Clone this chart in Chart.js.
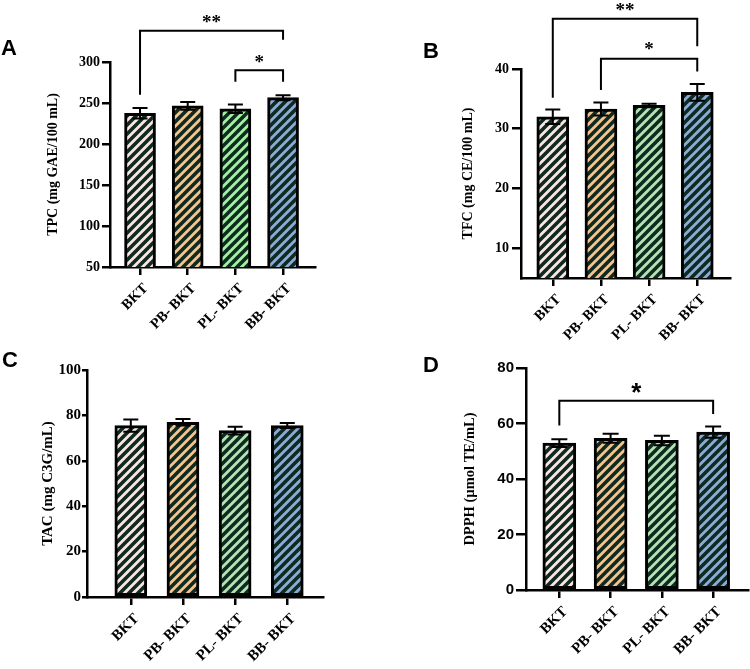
<!DOCTYPE html>
<html>
<head>
<meta charset="utf-8">
<script src="https://cdn.jsdelivr.net/npm/chart.js@4.4.1/dist/chart.umd.min.js"></script>
<style>
  html, body { margin: 0; padding: 0; background: #fff; }
  #wrap { position: relative; width: 750px; height: 669px; overflow: hidden; }
  canvas { position: absolute; }
</style>
</head>
<body>
<div id="wrap">
  <canvas id="chartA" width="375" height="335" style="left:0;top:0"></canvas>
  <canvas id="chartB" width="375" height="360" style="left:375px;top:0"></canvas>
  <canvas id="chartC" width="375" height="334" style="left:0;top:335px"></canvas>
  <canvas id="chartD" width="375" height="334" style="left:375px;top:335px"></canvas>
</div>
<script>
// categories shared by all four panels
const categories = ["BKT", "PB- BKT", "PL- BKT", "BB- BKT"];

// A - total phenolic content
const tpcMeans = [237.5, 246.5, 243, 256.5];
const tpcErrors = [6.5, 4.8, 5.2, 3];
const tpcTicks = [50, 100, 150, 200, 250, 300];
// [from, to, top, left leg end, right leg end, label y, label]
const tpcBrackets = [
  [0, 3, 338, 260, 327, 352, "**"],
  [2, 3, 290, 276, 276, 304, "*"],
];

// B - total flavonoid content
const tfcMeans = [32, 33.3, 33.9, 36.1];
const tfcErrors = [1.2, 1.1, 0.3, 1.4];
const tfcTicks = [10, 20, 30, 40];
const tfcBrackets = [
  [0, 3, 48.4, 35.2, 43.8, 50.4, "**"],
  [1, 3, 41.7, 36.5, 39.6, 43.8, "*"],
];

// C - total anthocyanin content
const tacMeans = [75.5, 77, 73.3, 75.5];
const tacErrors = [2.7, 1.4, 1.7, 1.1];
const tacTicks = [0, 20, 40, 60, 80, 100];
const tacBrackets = [];

// D - DPPH
const dpphMeans = [52.9, 54.7, 53.9, 56.9];
const dpphErrors = [1.4, 1.6, 1.7, 2.0];
const dpphTicks = [0, 20, 40, 60, 80];
const dpphBrackets = [
  [0, 3, 68.2, 59.3, 63.4, 73.4, "*"],
];

const SERIF = "'Liberation Serif', 'Times New Roman', serif";
const SANS = "'Liberation Sans', Arial, sans-serif";
const stripeColor = "#0f2a21";

function hatch(fill) {
  const s = 9;
  const c = document.createElement("canvas");
  c.width = s;
  c.height = s;
  const g = c.getContext("2d");
  g.fillStyle = fill;
  g.fillRect(0, 0, s, s);
  g.strokeStyle = stripeColor;
  g.lineWidth = 3.6;
  g.beginPath();
  g.moveTo(-2, s + 2); g.lineTo(s + 2, -2);
  g.moveTo(-2, 2); g.lineTo(2, -2);
  g.moveTo(s - 2, s + 2); g.lineTo(s + 2, s - 2);
  g.stroke();
  return g.createPattern(c, "repeat");
}

const panels = [
  {
    id: "chartA", letter: "A", letterPos: [1, 55],
    title: "TPC (mg GAE/100 mL)", titleSize: 14,
    means: tpcMeans, errors: tpcErrors, ticks: tpcTicks, brackets: tpcBrackets,
    min: 50, max: 300, green: "#a2f2a2",
    pad: { left: 45, top: 62, right: 60, bottom: 0 }, yWidth: 65, xHeight: 68,
    xMin: -0.63, xMax: 3.67, bar: 31, cap: 15,
    tickFont: SERIF, tickSize: 14, yTick: 8, yPad: 2, labelSize: 14.5,
    starFont: SERIF, starSize: 19, starShift: 0.47,
  },
  {
    id: "chartB", letter: "B", letterPos: [48, 58],
    title: "TFC (mg CE/100 mL)", titleSize: 14,
    means: tfcMeans, errors: tfcErrors, ticks: tfcTicks, brackets: tfcBrackets,
    min: 5, max: 40, green: "#b3e4b3",
    pad: { left: 85, top: 69, right: 20, bottom: 0 }, yWidth: 61, xHeight: 82,
    xMin: -0.66, xMax: 3.68, bar: 32, cap: 15,
    tickFont: SERIF, tickSize: 14, yTick: 9, yPad: 3, labelSize: 14.5,
    starFont: SERIF, starSize: 19, starShift: 0.47,
  },
  {
    id: "chartC", letter: "C", letterPos: [2, 32],
    title: "TAC (mg C3G/mL)", titleSize: 15,
    means: tacMeans, errors: tacErrors, ticks: tacTicks, brackets: tacBrackets,
    min: 0, max: 100, green: "#b3e4b3",
    pad: { left: 39, top: 35, right: 52, bottom: 0 }, yWidth: 48, xHeight: 72,
    xMin: -0.84, xMax: 3.685, bar: 32, cap: 15,
    tickFont: SERIF, tickSize: 15, yTick: 5, yPad: 1, labelSize: 15,
    starFont: SERIF, starSize: 19, starShift: 0.47,
  },
  {
    id: "chartD", letter: "D", letterPos: [48, 37],
    title: "DPPH (\u00b5mol TE/mL)", titleSize: 14.5,
    means: dpphMeans, errors: dpphErrors, ticks: dpphTicks, brackets: dpphBrackets,
    min: 0, max: 80, green: "#b3e4b3",
    pad: { left: 87, top: 33, right: 2, bottom: 0 }, yWidth: 64, xHeight: 79,
    xMin: -0.65, xMax: 3.68, bar: 33, cap: 16,
    tickFont: SANS, tickSize: 15, yTick: 10, yPad: 2, labelSize: 15,
    starFont: SANS, starSize: 26, starShift: 0.55,
  },
];

function annotations(p) {
  return {
    id: "annot" + p.letter,
    afterDatasetsDraw(chart) {
      const ctx = chart.ctx;
      const xs = chart.scales.x;
      const ys = chart.scales.y;
      const meta = chart.getDatasetMeta(0);
      ctx.save();
      ctx.strokeStyle = "#000";
      ctx.lineWidth = 2;
      // error bars (mean +/- SD)
      meta.data.forEach(function (bar, i) {
        const yHi = ys.getPixelForValue(p.means[i] + p.errors[i]);
        const yLo = ys.getPixelForValue(p.means[i] - p.errors[i]);
        ctx.beginPath();
        ctx.moveTo(bar.x, yLo);
        ctx.lineTo(bar.x, yHi);
        ctx.moveTo(bar.x - p.cap / 2, yHi);
        ctx.lineTo(bar.x + p.cap / 2, yHi);
        ctx.moveTo(bar.x - p.cap / 2, yLo);
        ctx.lineTo(bar.x + p.cap / 2, yLo);
        ctx.stroke();
      });
      // significance brackets
      p.brackets.forEach(function (b) {
        const x1 = xs.getPixelForValue(b[0]);
        const x2 = xs.getPixelForValue(b[1]);
        const yTop = ys.getPixelForValue(b[2]);
        ctx.beginPath();
        ctx.moveTo(x1, ys.getPixelForValue(b[3]));
        ctx.lineTo(x1, yTop);
        ctx.lineTo(x2, yTop);
        ctx.lineTo(x2, ys.getPixelForValue(b[4]));
        ctx.stroke();
        ctx.fillStyle = "#000";
        ctx.font = "bold " + p.starSize + "px " + p.starFont;
        ctx.textAlign = "center";
        ctx.textBaseline = "alphabetic";
        ctx.fillText(b[6], (x1 + x2) / 2, ys.getPixelForValue(b[5]) + p.starSize * p.starShift);
      });
      ctx.restore();
    },
    afterDraw(chart) {
      const ctx = chart.ctx;
      ctx.save();
      ctx.fillStyle = "#000";
      ctx.font = "bold 22px " + SANS;
      ctx.textAlign = "left";
      ctx.textBaseline = "alphabetic";
      ctx.fillText(p.letter, p.letterPos[0], p.letterPos[1]);
      ctx.restore();
    },
  };
}

function makeChart(p) {
  const colors = ["#fce6e4", "#f6c48e", p.green, "#8cacd8"];
  const points = p.means.map(function (v, i) { return { x: i, y: v }; });
  new Chart(document.getElementById(p.id).getContext("2d"), {
    type: "bar",
    data: {
      datasets: [{
        data: points,
        backgroundColor: colors.map(hatch),
        borderColor: "#000",
        borderWidth: 3,
        borderSkipped: false,
        barThickness: p.bar,
      }],
    },
    options: {
      responsive: false,
      animation: false,
      events: [],
      layout: { padding: p.pad },
      plugins: { legend: { display: false }, tooltip: { enabled: false } },
      scales: {
        x: {
          type: "linear",
          min: p.xMin,
          max: p.xMax,
          offset: false,
          z: 1,
          afterFit: function (s) { s.height = p.xHeight; },
          afterBuildTicks: function (s) {
            s.ticks = categories.map(function (c, i) { return { value: i }; });
          },
          border: { display: true, color: "#000", width: 2.5 },
          grid: { display: true, offset: false, drawOnChartArea: false, drawTicks: true, tickLength: 8, color: "#000", lineWidth: 2.5 },
          ticks: {
            autoSkip: false,
            minRotation: 45,
            maxRotation: 45,
            padding: 5,
            labelOffset: 6,
            color: "#000",
            font: { family: SERIF, size: p.labelSize, weight: "bold" },
            callback: function (v) { return categories[v]; },
          },
        },
        y: {
          min: p.min,
          max: p.max,
          beginAtZero: false,
          afterFit: function (s) { s.width = p.yWidth; },
          afterBuildTicks: function (s) {
            s.ticks = p.ticks.map(function (v) { return { value: v }; });
          },
          border: { display: true, color: "#000", width: 2.5 },
          grid: { display: true, drawOnChartArea: false, drawTicks: true, tickLength: p.yTick, color: "#000", lineWidth: 2.5 },
          ticks: {
            padding: p.yPad,
            color: "#000",
            font: { family: p.tickFont, size: p.tickSize, weight: "bold" },
          },
          title: {
            display: true,
            text: p.title,
            color: "#000",
            padding: { top: 0, bottom: 0 },
            font: { family: SERIF, size: p.titleSize, weight: "bold" },
          },
        },
      },
    },
    plugins: [annotations(p)],
  });
}

document.addEventListener("DOMContentLoaded", function () {
  panels.forEach(makeChart);
});
</script>
</body>
</html>
